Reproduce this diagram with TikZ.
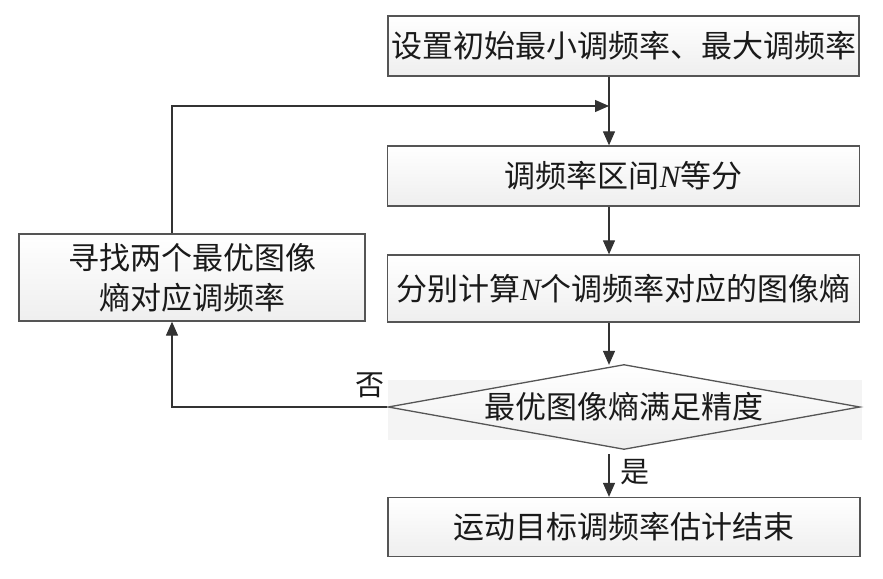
\documentclass[tikz,border=0pt]{standalone}
\usepackage{fontspec}
\setmainfont{Liberation Serif}
\newfontfamily\cjk{Noto Sans CJK SC}
\newfontfamily\latn{Liberation Serif}
\usetikzlibrary{arrows.meta,shapes.geometric}
\definecolor{linec}{HTML}{333333}
\definecolor{boxc}{HTML}{555555}
\definecolor{txtc}{HTML}{1A1A1A}
\newcommand{\vN}{{\latn\itshape N}}
\tikzset{
  procbox/.style={draw=boxc, line width=1.3pt, top color=white, bottom color=gray!13,
    inner sep=0pt, text=txtc, font=\cjk\fontsize{31}{40}\selectfont, align=center},
  decbox/.style={procbox, shape=diamond, aspect=5.5},
  arr/.style={draw=linec, line width=1.2pt, -{Triangle[length=14pt,width=12pt]}},
  conn/.style={draw=linec, line width=1.2pt},
  lbl/.style={text=txtc, font=\cjk\fontsize{29}{34}\selectfont, inner sep=0pt}
}
\begin{document}
\begin{tikzpicture}[x=1pt,y=-1pt]
\useasboundingbox (0,0) rectangle (883,578);
\coordinate (ax) at (609,0);
\coordinate (lx) at (172,0);
\node[procbox, minimum width=471pt, minimum height=60pt] (b1) at (623.5,46) {设置初始最小调频率、最大调频率};
\node[procbox, minimum width=472pt, minimum height=60pt] (b2) at (623.5,176) {调频率区间\vN 等分};
\node[procbox, minimum width=472pt, minimum height=67pt] (b3) at (623.5,288.5) {分别计算\vN 个调频率对应的图像熵};
\node[procbox, minimum width=346pt, minimum height=87pt] (lb) at (192,277.5) {寻找两个最优图像\\熵对应调频率};
\fill[gray!9] (388,380) rectangle (862,440);
\node[decbox, minimum width=472pt, minimum height=85pt] (d) at (624,407) {最优图像熵满足精度};
\node[procbox, minimum width=472pt, minimum height=59pt] (b5) at (624,527) {运动目标调频率估计结束};
\coordinate (j) at (609,106);
\coordinate (c1) at (172,407);
\draw[arr] (b1.south -| ax) -- (b2.north -| ax);
\draw[arr] (b2.south -| ax) -- (b3.north -| ax);
\draw[arr] (b3.south -| ax) -- ([yshift=-1pt]d.north -| ax);
\draw[arr] ([yshift=-4pt]d.south -| ax) -- (b5.north -| ax);
\draw[arr] (lb.north -| lx) |- (j);
\draw[arr] (d.west) -- (c1) -- (lb.south -| lx);
\node[lbl] (no) at (370,385) {否};
\node[lbl] (yes) at (635,472) {是};
\end{tikzpicture}
\end{document}
